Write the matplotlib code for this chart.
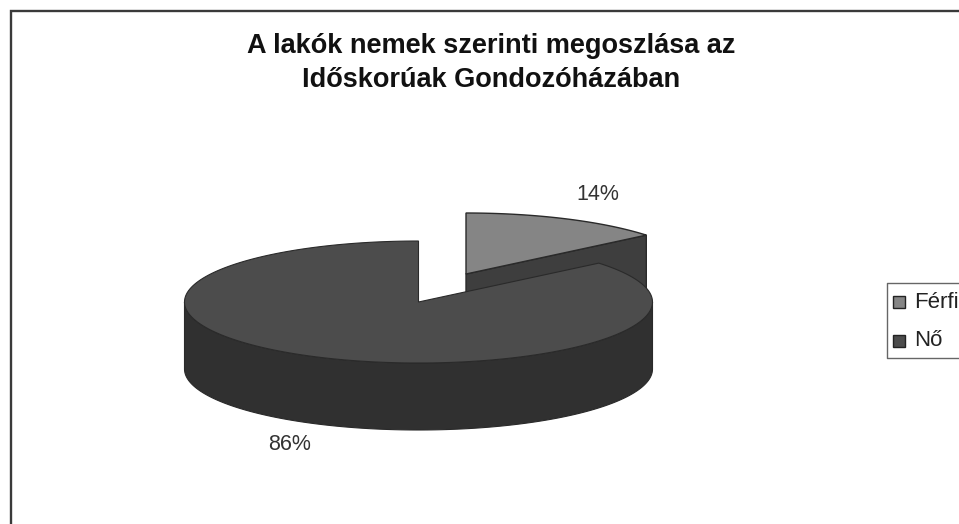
import numpy as np
import matplotlib
matplotlib.use('Agg')
import matplotlib.pyplot as plt
from matplotlib.patches import Rectangle

plt.rcParams['font.family'] = ['Liberation Sans', 'DejaVu Sans']

title_lines = ['A lakók nemek szerinti megoszlása az', 'Időskorúak Gondozóházában']
labels = ['Férfi', 'Nő']
shares = [14, 86]
pct_labels = ['14%', '86%']

# colours of the scanned 3D pie
top_colors = ['#858585', '#4c4c4c']
side_colors = ['#3e3e3e', '#303030']
edge = '#2a2a2a'

# pie geometry in picture pixels
cx, cy = 418.5, 302
rx, ry = 234, 61
depth = 67
explode = (47.5, -28)


def arc(start, stop, x0, y0):
    # angles clockwise from 12 o'clock
    t = np.radians(np.linspace(start, stop, 200))
    return x0 + rx * np.sin(t), y0 - ry * np.cos(t)


fig = plt.figure(figsize=(9.59, 5.24), dpi=100)
ax = fig.add_axes([0, 0, 1, 1])
ax.set_xlim(0, 959)
ax.set_ylim(524, 0)
ax.axis('off')

# chart frame, runs off the right and bottom of the scan
ax.plot([10.5, 10.5, 959], [524, 11, 11], color='#3a3a3a', lw=1.7, solid_joinstyle='miter')

split = shares[0] / sum(shares) * 360

# exploded small slice, cut face first
mx, my = cx + explode[0], cy + explode[1]
ex, ey = arc(split, split, mx, my)
ax.fill([mx, ex[0], ex[0], mx], [my, ey[0], ey[0] + depth, my + depth],
        color=side_colors[0], ec=edge, lw=1)
ax_x, ax_y = arc(0, split, mx, my)
ax.fill(np.r_[mx, ax_x], np.r_[my, ax_y], color=top_colors[0], ec=edge, lw=1)

# big slice, outer wall then top
wx, wy = arc(90, 270, cx, cy)
ax.fill(np.r_[wx, wx[::-1]], np.r_[wy, wy[::-1] + depth],
        color=side_colors[1], ec=edge, lw=0.8)
bx, by = arc(split, 360, cx, cy)
ax.fill(np.r_[cx, bx], np.r_[cy, by], color=top_colors[1], ec=edge, lw=0.8)

ax.text(598, 195, pct_labels[0], fontsize=15.5, color='#333333', ha='center', va='center')
ax.text(290, 445, pct_labels[1], fontsize=15.5, color='#333333', ha='center', va='center')

for y, line in zip([53, 87], title_lines):
    ax.text(491, y, line, fontsize=19.5, fontweight='bold', color='#111111',
            ha='center', va='baseline')

# legend box
ax.plot([959, 887, 887, 959], [283, 283, 358, 358], color='#666666', lw=1)
for i, lab in enumerate(labels):
    y = [302, 341][i]
    ax.add_patch(Rectangle((893, y - 6), 12, 12, fc=top_colors[i], ec='#222222', lw=1))
    ax.text(914, y, lab, fontsize=16, color='#222222', va='center')

fig.savefig('out.png', dpi=100)
